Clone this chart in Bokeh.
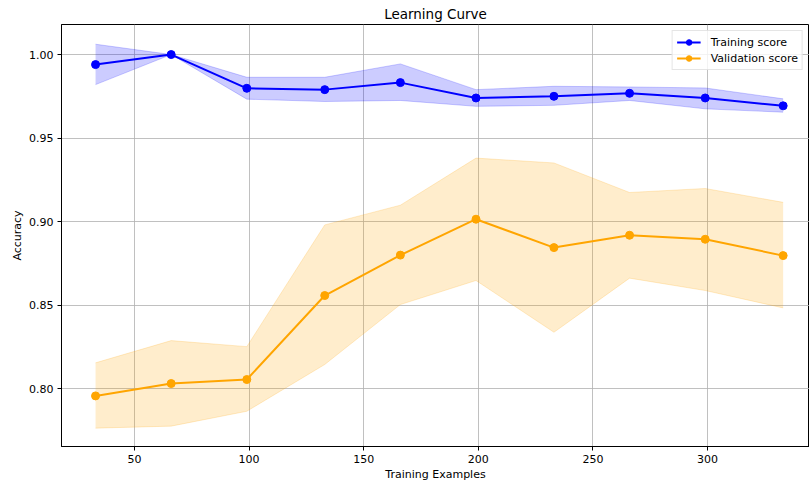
from bokeh.plotting import figure
from bokeh.models import FixedTicker, NumeralTickFormatter, Range1d, Legend
from bokeh.embed import file_html
from bokeh.resources import INLINE

train_sizes = [33, 66, 99, 133, 166, 199, 233, 266, 299, 333]
train_mean = [0.994, 1.000, 0.9798, 0.979, 0.9832, 0.974, 0.975, 0.9768, 0.974, 0.9693]
train_upper = [1.0062, 1.000, 0.9864, 0.9864, 0.9944, 0.979, 0.981, 0.9806, 0.980, 0.9735]
train_lower = [0.982, 1.000, 0.9733, 0.9719, 0.9725, 0.969, 0.9696, 0.9725, 0.9675, 0.9655]
val_mean = [0.7956, 0.803, 0.8054, 0.8557, 0.8799, 0.9014, 0.8844, 0.8918, 0.8894, 0.8796]
val_upper = [0.8154, 0.8287, 0.8251, 0.8980, 0.9098, 0.9380, 0.9351, 0.9174, 0.9198, 0.9115]
val_lower = [0.7763, 0.7775, 0.7864, 0.8144, 0.8503, 0.8647, 0.8337, 0.8661, 0.8587, 0.8483]
x_ticks = [50, 100, 150, 200, 250, 300]
y_ticks = [0.80, 0.85, 0.90, 0.95, 1.00]

FONT = "DejaVu Sans"

p = figure(width=809, height=483, output_backend="svg", toolbar_location=None,
           title="Learning Curve",
           x_range=Range1d(18.15, 344.5), y_range=Range1d(0.7653, 1.018),
           min_border_left=61, min_border_right=0, min_border_bottom=20, min_border_top=0)

p.title.align = "center"
p.title.text_font = FONT
p.title.text_font_size = "13.5px"
p.title.text_font_style = "normal"
p.title.text_color = "#000000"
p.title.standoff = 6

p.outline_line_color = "#000000"
p.outline_line_width = 1

for ax in (p.xaxis[0], p.yaxis[0]):
    ax.axis_line_color = "#000000"
    ax.major_tick_line_color = "#000000"
    ax.major_tick_out = 4
    ax.major_tick_in = 0
    ax.minor_tick_line_color = None
    ax.major_label_text_font = FONT
    ax.major_label_text_font_size = "11px"
    ax.major_label_text_color = "#000000"
    ax.axis_label_text_font = FONT
    ax.axis_label_text_font_size = "11px"
    ax.axis_label_text_font_style = "normal"
    ax.axis_label_text_color = "#000000"
    ax.major_label_standoff = 4
    ax.axis_label_standoff = 2

p.xaxis.ticker = FixedTicker(ticks=x_ticks)
p.yaxis.ticker = FixedTicker(ticks=y_ticks)
p.yaxis.formatter = NumeralTickFormatter(format="0.00")
p.xaxis.axis_label = "Training Examples"
p.yaxis.axis_label = "Accuracy"

p.xgrid.ticker = FixedTicker(ticks=x_ticks)
p.ygrid.ticker = FixedTicker(ticks=y_ticks)
p.grid.grid_line_color = "#b0b0b0"
p.grid.grid_line_width = 1
p.grid.grid_line_alpha = 0.8

# bands (mean +/- std)
p.varea(x=train_sizes, y1=train_lower, y2=train_upper, fill_color="blue", fill_alpha=0.2)
p.line(x=train_sizes, y=train_lower, line_color="blue", line_alpha=0.2, line_width=1)
p.line(x=train_sizes, y=train_upper, line_color="blue", line_alpha=0.2, line_width=1)
p.varea(x=train_sizes, y1=val_lower, y2=val_upper, fill_color="orange", fill_alpha=0.2)
p.line(x=train_sizes, y=val_lower, line_color="orange", line_alpha=0.2, line_width=1)
p.line(x=train_sizes, y=val_upper, line_color="orange", line_alpha=0.2, line_width=1)

tl = p.line(x=train_sizes, y=train_mean, line_color="blue", line_width=2)
ts = p.scatter(x=train_sizes, y=train_mean, marker="circle", size=8, fill_color="blue", line_color="blue")
vl = p.line(x=train_sizes, y=val_mean, line_color="orange", line_width=2)
vs = p.scatter(x=train_sizes, y=val_mean, marker="circle", size=8, fill_color="orange", line_color="orange")

legend = Legend(items=[("Training score", [tl, ts]), ("Validation score", [vl, vs])],
                location="top_right")
legend.label_text_font = FONT
legend.label_text_font_size = "11px"
legend.label_text_color = "#000000"
legend.glyph_width = 24
legend.glyph_height = 14
legend.label_height = 14
legend.label_standoff = 10
legend.spacing = 2
legend.padding = 4
legend.margin = 6
legend.border_line_color = "#cccccc"
legend.border_line_width = 1
legend.background_fill_alpha = 0.8
p.add_layout(legend, "center")

open("out.html", "w").write(file_html(p, INLINE))
